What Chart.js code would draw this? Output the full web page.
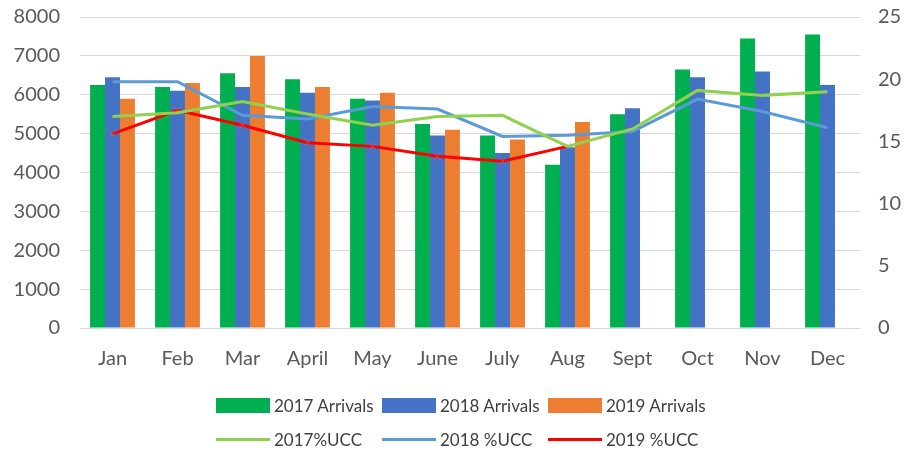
<!DOCTYPE html>
<html>
<head>
<meta charset="utf-8">
<script src="https://cdn.jsdelivr.net/npm/chart.js@4"></script>
<style>
    body { margin: 0; background: #fff; font-family: Lato, sans-serif; position: relative; width: 908px; height: 458px; overflow: hidden; }
    #wrap { position: absolute; left: 0; top: -15px; width: 908px; height: 397px; }
    #legend { position: absolute; left: 0; top: 380px; width: 908px; height: 78px; }
    .row { position: absolute; left: 216px; display: flex; }
    .item { width: 166px; display: flex; align-items: center; font-size: 17px; color: #404040; }
    .sym { width: 54px; margin-right: 4px; }
</style>
</head>
<body>
<div id="wrap"><canvas id="chart"></canvas></div>
<div id="legend"></div>
<script>
'use strict';
const months = ['Jan', 'Feb', 'Mar', 'April', 'May', 'June', 'July', 'Aug', 'Sept', 'Oct', 'Nov', 'Dec'];

// прибытия (левая ось)
const arrivals2017 = [6250, 6200, 6550, 6400, 5900, 5250, 4950, 4200, 5500, 6650, 7450, 7550];
const arrivals2018 = [6450, 6100, 6200, 6050, 5850, 4950, 4500, 4650, 5650, 6450, 6600, 6250];
const arrivals2019 = [5900, 6300, 7000, 6200, 6050, 5100, 4850, 5300, null, null, null, null];

// %UCC (правая ось)
const ucc2017 = [17.0, 17.3, 18.2, 17.2, 16.3, 17.0, 17.1, 14.6, 16.0, 19.1, 18.7, 19.0];
const ucc2018 = [19.8, 19.8, 17.1, 16.8, 17.8, 17.6, 15.4, 15.5, 15.8, 18.4, 17.4, 16.1];
const ucc2019 = [15.6, 17.5, 16.3, 14.9, 14.6, 13.8, 13.4, 14.6, null, null, null, null];

const leftTicks = { min: 0, max: 8000, step: 1000 };
const rightTicks = { min: 0, max: 25, step: 5 };

const tickFont = { family: 'Lato', size: 20 };
const tickColor = '#595959';

function barSet(label, data, color) {
    return {
        type: 'bar', label: label, data: data, yAxisID: 'y',
        backgroundColor: color, borderWidth: 0, order: 2,
        barPercentage: 1, categoryPercentage: 0.69
    };
}

function lineSet(label, data, color, marker) {
    return {
        type: 'line', label: label, data: data, yAxisID: 'y1',
        borderColor: color, backgroundColor: color, borderWidth: 3,
        pointRadius: marker ? 5 : 0, pointStyle: 'crossRot',
        pointBorderColor: marker ? 'rgba(237,125,49,0.45)' : color,
        pointBorderWidth: 1, tension: 0, order: 1, spanGaps: false
    };
}

const datasets = [
    barSet('2017 Arrivals', arrivals2017, '#00B050'),
    barSet('2018 Arrivals', arrivals2018, '#4472C4'),
    barSet('2019 Arrivals', arrivals2019, '#ED7D31'),
    lineSet('2017%UCC', ucc2017, '#92D050', false),
    lineSet('2018 %UCC', ucc2018, '#5B9BD5', false),
    lineSet('2019 %UCC', ucc2019, '#FF0000', true)
];

const plain = function (value) { return String(value); }; // без разделителей тысяч

const chart = new Chart(document.getElementById('chart'), {
    data: { labels: months, datasets: datasets },
    options: {
        responsive: true,
        maintainAspectRatio: false,
        animation: false,
        layout: { padding: 0 },
        plugins: { legend: { display: false }, tooltip: { enabled: false } },
        scales: {
            x: {
                grid: { display: false },
                border: { display: false },
                ticks: { font: tickFont, color: tickColor, padding: 11 }
            },
            y: {
                position: 'left',
                min: leftTicks.min, max: leftTicks.max,
                ticks: { stepSize: leftTicks.step, font: tickFont, color: tickColor, padding: 20, callback: plain },
                grid: { color: '#d9d9d9', drawTicks: false },
                border: { display: false },
                afterFit: function (scale) { scale.width = 80; }
            },
            y1: {
                position: 'right',
                min: rightTicks.min, max: rightTicks.max,
                ticks: { stepSize: rightTicks.step, font: tickFont, color: tickColor, padding: 18, callback: plain },
                grid: { display: false, drawTicks: false },
                border: { display: false },
                afterFit: function (scale) { scale.width = 48; }
            }
        }
    }
});

// легенда в две строки: столбцы, затем линии
const legend = document.getElementById('legend');
function addRow(items, top) {
    const row = document.createElement('div');
    row.className = 'row';
    row.style.top = top + 'px';
    items.forEach(function (ds) {
        const item = document.createElement('div');
        item.className = 'item';
        const sym = document.createElement('div');
        sym.className = 'sym';
        if (ds.type === 'bar') {
            sym.style.height = '15px';
            sym.style.background = ds.backgroundColor;
        } else {
            sym.style.height = '3px';
            sym.style.background = ds.borderColor;
        }
        const txt = document.createElement('span');
        txt.textContent = ds.label;
        item.appendChild(sym);
        item.appendChild(txt);
        row.appendChild(item);
    });
    legend.appendChild(row);
}
addRow(datasets.slice(0, 3), 15);
addRow(datasets.slice(3), 49);
</script>
</body>
</html>
